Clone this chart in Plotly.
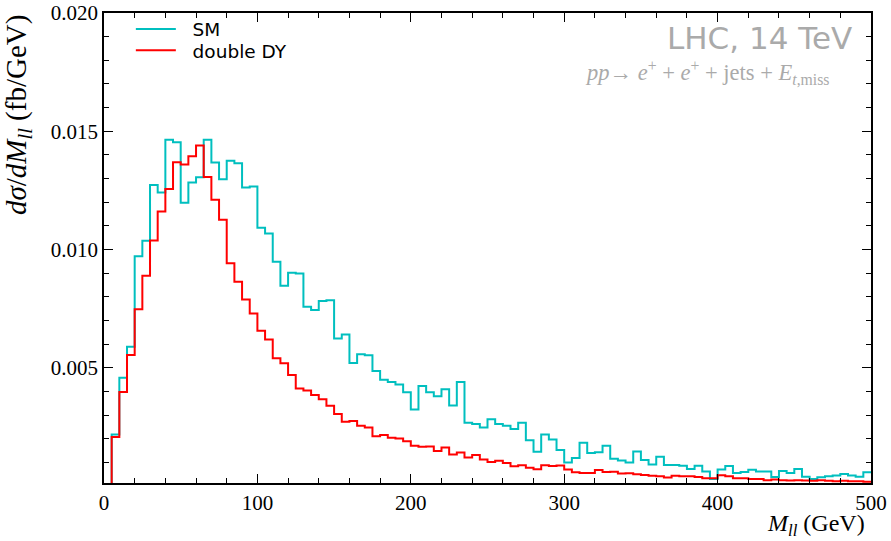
import plotly.graph_objects as go

# Bin edges (GeV), 5 GeV bins from 0 to 500
bin_width = 5
bin_lo = list(range(0, 500, bin_width))

# d sigma / dM_ll in units of 1e-3 fb/GeV, one value per bin
sm_vals = [
    0.00, 2.18, 4.58, 5.89, 9.72, 10.37, 12.73, 12.41, 14.64, 14.54,
    11.98, 12.83, 13.06, 14.64, 13.68, 12.97, 13.75, 13.65, 12.62, 12.66,
    10.92, 10.68, 9.48, 8.47, 9.02, 8.99, 7.58, 7.44, 7.82, 7.86,
    6.24, 6.41, 5.20, 5.57, 5.53, 4.86, 4.50, 4.40, 4.29, 3.97,
    3.24, 4.23, 3.97, 3.80, 4.09, 3.41, 4.40, 2.68, 2.62, 2.48,
    2.83, 2.62, 2.55, 2.41, 2.68, 1.94, 1.45, 2.18, 1.97, 1.52,
    1.00, 1.19, 1.83, 1.40, 1.43, 1.70, 1.16, 1.08, 1.00, 1.46,
    1.10, 0.91, 1.24, 0.89, 0.89, 0.86, 0.72, 0.86, 0.62, 0.30,
    0.70, 0.85, 0.55, 0.60, 0.69, 0.62, 0.62, 0.38, 0.64, 0.55,
    0.72, 0.39, 0.30, 0.37, 0.42, 0.45, 0.51, 0.45, 0.39, 0.58,
]
dy_vals = [
    0.00, 2.08, 3.98, 5.54, 7.48, 8.89, 10.38, 11.61, 12.56, 13.69,
    13.59, 13.94, 14.40, 13.07, 12.10, 11.26, 9.42, 8.64, 7.89, 7.30,
    6.57, 6.20, 5.40, 5.19, 4.70, 4.13, 4.04, 3.85, 3.67, 3.40,
    3.05, 2.72, 2.75, 2.55, 2.48, 2.11, 2.16, 2.04, 2.01, 1.89,
    1.70, 1.66, 1.67, 1.48, 1.63, 1.34, 1.42, 1.21, 1.31, 1.12,
    1.02, 1.07, 0.98, 0.84, 0.88, 0.78, 0.71, 0.88, 0.85, 0.87,
    0.70, 0.58, 0.55, 0.55, 0.68, 0.60, 0.61, 0.53, 0.54, 0.50,
    0.47, 0.44, 0.42, 0.36, 0.44, 0.42, 0.42, 0.38, 0.33, 0.33,
    0.46, 0.42, 0.33, 0.33, 0.30, 0.30, 0.25, 0.28, 0.25, 0.24,
    0.25, 0.24, 0.22, 0.25, 0.22, 0.20, 0.22, 0.20, 0.20, 0.18,
]
scale = 1e-3

x_ticks = [0, 100, 200, 300, 400, 500]
y_ticks = [0.005, 0.010, 0.015, 0.020]

def step_xy(vals):
    xs = bin_lo + [bin_lo[-1] + bin_width]
    ys = [v * scale for v in vals] + [vals[-1] * scale]
    return xs, ys

fig = go.Figure()
xs, ys = step_xy(sm_vals)
fig.add_trace(go.Scatter(x=xs, y=ys, mode="lines", line_shape="hv",
                         line=dict(color="#00BFBF", width=2), name="\u00a0\u00a0SM", legend="legend"))
xs, ys = step_xy(dy_vals)
fig.add_trace(go.Scatter(x=xs, y=ys, mode="lines", line_shape="hv",
                         line=dict(color="#FF0000", width=2), name="\u00a0\u00a0double DY",
                         legend="legend2"))

serif = "Liberation Serif"
tickfont = dict(family=serif, size=21, color="black")
legfont = dict(family="DejaVu Sans", size=18.5, color="black")

fig.update_layout(
    width=891, height=541,
    margin=dict(l=104, r=20, t=12, b=58),
    paper_bgcolor="white", plot_bgcolor="white",
    showlegend=True,
    legend=dict(x=0.035, y=1.003, xanchor="left", yanchor="top",
                bgcolor="rgba(0,0,0,0)", font=legfont, itemwidth=40),
    legend2=dict(x=0.035, y=0.958, xanchor="left", yanchor="top",
                 bgcolor="rgba(0,0,0,0)", font=legfont, itemwidth=40),
    xaxis=dict(range=[0, 500], tickvals=x_ticks, ticks="inside", ticklen=9, tickwidth=1.2,
               tickcolor="black", showline=True, linecolor="black", linewidth=1.5,
               mirror="ticks", showgrid=False, zeroline=False, tickfont=tickfont,
               automargin=False,
               minor=dict(dtick=20, ticks="inside", ticklen=5, tickwidth=1, tickcolor="black",
                          showgrid=False)),
    yaxis=dict(range=[0.00013, 0.020], tickvals=y_ticks, tickformat=".3f", ticks="inside",
               ticklen=9, tickwidth=1.2, tickcolor="black", showline=True, linecolor="black",
               linewidth=1.5, mirror="ticks", showgrid=False, zeroline=False, tickfont=tickfont,
               automargin=False,
               minor=dict(dtick=0.001, tick0=0, ticks="inside", ticklen=5, tickwidth=1,
                          tickcolor="black", showgrid=False)),
)

fig.add_annotation(text="<i>M</i><sub><i>ll</i></sub> (GeV)", xref="paper", yref="paper",
                   x=1.0, y=0, yshift=-25, xshift=-4, xanchor="right", yanchor="top",
                   showarrow=False, font=dict(family=serif, size=24, color="black"))
fig.add_annotation(text="<i>dσ</i>/<i>dM</i><sub><i>ll</i></sub> (fb/GeV)", xref="paper",
                   yref="paper", x=0, xshift=-66, y=1.0, xanchor="right", yanchor="top",
                   textangle=-90, showarrow=False, font=dict(family=serif, size=29, color="black"))
fig.add_annotation(text="LHC, 14 TeV", xref="paper", yref="paper", x=0.978, y=0.99,
                   xanchor="right", yanchor="top", showarrow=False,
                   font=dict(family="DejaVu Sans", size=31, color="#AAAAAA"))
fig.add_annotation(text="<i>pp</i>→ <i>e</i><sup>+</sup> + <i>e</i><sup>+</sup> + jets + <i>E</i><sub><i>t</i>,miss</sub>",
                   xref="paper", yref="paper", x=0.948, y=0.91, xanchor="right", yanchor="top",
                   showarrow=False, font=dict(family=serif, size=22.5, color="#AAAAAA"))

fig.write_html("out.html")
